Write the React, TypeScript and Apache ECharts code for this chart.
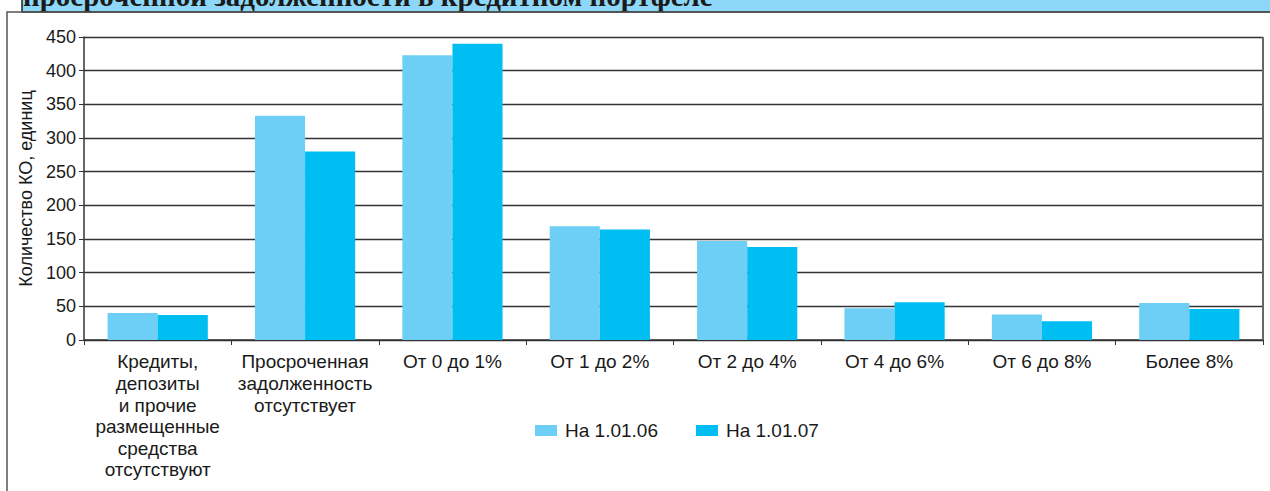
import React, { useEffect, useRef } from "react";
import * as echarts from "echarts";

const categories = [
  "Кредиты,\nдепозиты\nи прочие\nразмещенные\nсредства\nотсутствуют",
  "Просроченная\nзадолженность\nотсутствует",
  "От 0 до 1%",
  "От 1 до 2%",
  "От 2 до 4%",
  "От 4 до 6%",
  "От 6 до 8%",
  "Более 8%",
];
const series06 = [40, 333, 423, 169, 147, 47, 38, 55];
const series07 = [37, 280, 440, 164, 138, 56, 28, 46];
const seriesNames = ["На 1.01.06", "На 1.01.07"];
const yAxisName = "Количество КО, единиц";
const headerText = "просроченной задолженности в кредитном портфеле";

export default function App() {
  const ref = useRef<HTMLDivElement>(null);
  useEffect(() => {
    document.body.style.margin = "0";
    const chart = echarts.init(ref.current!, null, { renderer: "svg" });
    const font = "'Liberation Sans', Arial, sans-serif";
    chart.setOption({
      animation: false,
      backgroundColor: "#ffffff",
      textStyle: { fontFamily: font },
      graphic: [
        {
          type: "rect",
          shape: { x: 22, y: -2, width: 1260, height: 14 },
          style: { fill: "#8dd8f8", stroke: "#222", lineWidth: 1.5 },
          z: 1,
        },
        {
          type: "text",
          x: 23,
          y: 10,
          style: {
            text: headerText,
            font: "bold 29px 'Liberation Serif', 'Times New Roman', serif",
            fill: "#1a1a1a",
            verticalAlign: "bottom",
          },
          z: 2,
        },
        {
          type: "rect",
          shape: { x: 7, y: 12, width: 1275, height: 490 },
          style: { fill: "none", stroke: "#555", lineWidth: 1.5 },
          z: 3,
        },
        {
          type: "line",
          shape: { x1: 1263, y1: 37, x2: 1263, y2: 340 },
          style: { stroke: "#666", lineWidth: 2 },
          z: 10,
        },
      ],
      grid: { left: 84, right: 7, top: 37, bottom: 151, containLabel: false },
      legend: {
        left: 530,
        top: 416,
        itemWidth: 22,
        itemHeight: 11,
        itemGap: 38,
        icon: "rect",
        textStyle: { fontSize: 19, color: "#1a1a1a", fontFamily: font, padding: [0, 0, 0, 3] },
        data: seriesNames,
      },
      xAxis: {
        type: "category",
        data: categories,
        axisLine: { lineStyle: { color: "#333", width: 1.5 } },
        axisTick: { show: true, length: 5, lineStyle: { color: "#333" } },
        axisLabel: {
          interval: 0,
          fontSize: 19,
          lineHeight: 21.6,
          color: "#1a1a1a",
          margin: 11,
          verticalAlign: "top",
        },
      },
      yAxis: {
        type: "value",
        min: 0,
        max: 450,
        interval: 50,
        name: yAxisName,
        nameLocation: "middle",
        nameGap: 47,
        nameTextStyle: { fontSize: 18, color: "#1a1a1a" },
        axisLine: { show: true, lineStyle: { color: "#333", width: 1.5 } },
        axisTick: { show: true, length: 5, lineStyle: { color: "#333" } },
        axisLabel: { fontSize: 18, color: "#1a1a1a", margin: 8 },
        splitLine: { show: true, lineStyle: { color: "#333", width: 1.3 } },
      },
      series: [
        {
          name: seriesNames[0],
          type: "bar",
          data: series06,
          itemStyle: { color: "#6dcff6" },
          barGap: "0%",
          barCategoryGap: "32%",
          z: 5,
        },
        {
          name: seriesNames[1],
          type: "bar",
          data: series07,
          itemStyle: { color: "#00bdf2" },
          z: 5,
        },
      ],
    });
    return () => chart.dispose();
  }, []);
  return <div ref={ref} style={{ width: 1270, height: 491 }} />;
}
